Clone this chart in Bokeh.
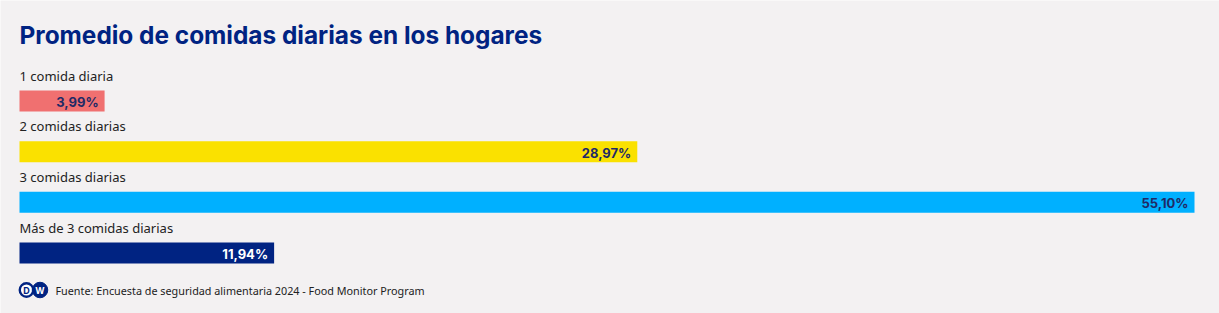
from bokeh.plotting import figure
from bokeh.models import Range1d, ColumnDataSource, Label
from bokeh.core.properties import value
from bokeh.embed import file_html
from bokeh.resources import INLINE

title = "Promedio de comidas diarias en los hogares"
categories = ["1 comida diaria", "2 comidas diarias", "3 comidas diarias", "Más de 3 comidas diarias"]
values = [3.99, 28.97, 55.10, 11.94]
labels = ["3,99%", "28,97%", "55,10%", "11,94%"]
colors = ["#f07070", "#fae100", "#00b0ff", "#002382"]
label_colors = ["#1f2a66", "#1f2a66", "#1f2a66", "#ffffff"]
source_text = "Fuente: Encuesta de seguridad alimentaria 2024 - Food Monitor Program"

W, H = 1219, 313
BG = "#f3f1f2"
NAVY = "#002382"

left_px, right_px = 19, 1194
xscale = (right_px - left_px) / max(values)
x0 = -left_px / xscale
x1 = (W - left_px) / xscale

yspace = (252.5 - 100.5) / 3
y_top = -100.5 / yspace
y_bot = (H - 100.5) / yspace

p = figure(width=W, height=H, output_backend="svg", toolbar_location=None,
           x_range=Range1d(x0, x1), y_range=Range1d(y_bot, y_top),
           min_border=0, min_border_left=0, min_border_right=0,
           min_border_top=0, min_border_bottom=0)
p.axis.visible = False
p.grid.visible = False
p.outline_line_color = None
p.background_fill_color = BG
p.border_fill_color = BG

idx = list(range(len(categories)))
src = ColumnDataSource(dict(y=idx, v=values, c=colors, lab=labels, lc=label_colors,
                            cat=categories, ly=[i - 0.5 for i in idx]))

p.hbar(y="y", left=0, right="v", height=21 / yspace, fill_color="c", line_color=None, source=src)
p.text(x="v", y="y", text="lab", text_color="lc", text_align="right", text_baseline="middle",
       x_offset=-6, y_offset=1, text_font=value("Inter"), text_font_style="bold",
       text_font_size="13px", source=src)
p.text(x=0, y="ly", text="cat", text_color="#222222", text_align="left", text_baseline="middle",
       text_font=value("Noto Sans"), text_font_size="13px", source=src)

p.add_layout(Label(x=19, y=H - 34, x_units="screen", y_units="screen", text=title,
                   text_font="Inter", text_font_style="bold", text_font_size="24.4px",
                   text_color=NAVY, text_baseline="middle"))
p.add_layout(Label(x=55, y=H - 290, x_units="screen", y_units="screen", text=source_text,
                   text_font="Noto Sans", text_font_size="10.8px",
                   text_color="#222222", text_baseline="middle"))

def px2x(px):
    return x0 + px / xscale
def py2y(py):
    return y_top + py / yspace

p.scatter(x=[px2x(26)], y=[py2y(289.5)], size=13.5, marker="circle", fill_color="#ffffff",
          line_color=NAVY, line_width=2.4)
p.scatter(x=[px2x(39.5)], y=[py2y(289.5)], size=15.5, marker="circle", fill_color=NAVY, line_color=NAVY)
p.text(x=[px2x(26)], y=[py2y(289.5)], text=["D"], text_align="center", text_baseline="middle",
       text_color=NAVY, text_font=value("Inter"), text_font_style="bold", text_font_size="9px")
p.text(x=[px2x(39.5)], y=[py2y(289.5)], text=["W"], text_align="center", text_baseline="middle",
       text_color="#ffffff", text_font=value("Inter"), text_font_style="bold", text_font_size="9px")

open("out.html", "w").write(file_html(p, INLINE))
